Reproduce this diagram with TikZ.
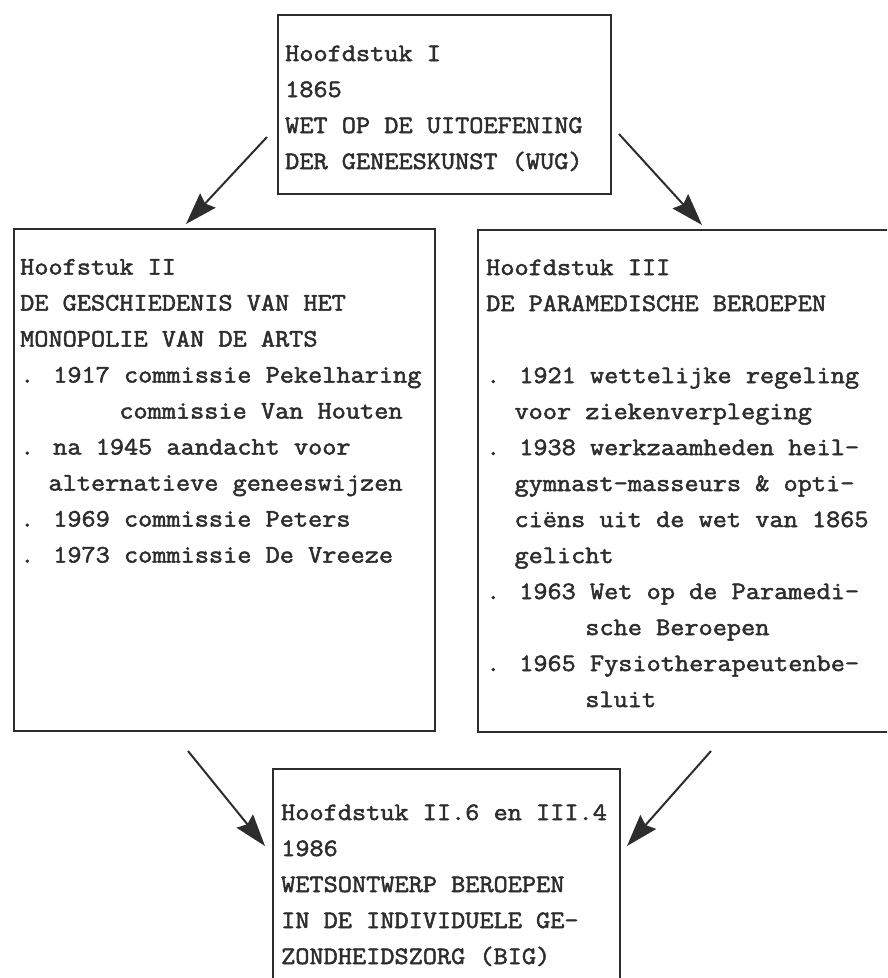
\documentclass[tikz,border=0pt]{standalone}
\usepackage{fontspec}
\usetikzlibrary{arrows.meta}
\newfontfamily\twfont{Latin Modern Mono}[FakeStretch=1.1, FakeBold=2]
\definecolor{ink}{RGB}{45,45,45}
\begin{document}
\begin{tikzpicture}[x=1pt,y=-1pt,
  box/.style={draw=ink, line width=2pt, inner sep=0pt, anchor=north west},
  txt/.style={anchor=base west, inner sep=0pt, text=ink, font=\twfont\fontsize{25}{36}\selectfont},
  arr/.style={draw=ink, line width=2pt, -{Stealth[length=32pt,width=21pt,inset=4pt]}}]
\useasboundingbox (0,0) rectangle (887,978);
\clip (0,0) rectangle (887,978);
\fill[white] (0,0) rectangle (887,978);
% boxes
\node[box, minimum width=333pt, minimum height=179pt] (b1) at (277,14) {};
\node[box, minimum width=421pt, minimum height=502pt] (b2) at (13,228) {};
\node[box, minimum width=430pt, minimum height=502pt] (b3) at (477,229) {};
\node[box, minimum width=347pt, minimum height=240pt] (b4) at (272,768) {};
% texts
\node[txt] (t1) at (285,61) {\begin{tabular}[t]{@{}l@{}}
Hoofdstuk I\\
1865\\
WET OP DE UITOEFENING\\
DER GENEESKUNST (WUG)
\end{tabular}};
\node[txt] (t2) at (20,274.5) {\begin{tabular}[t]{@{}l@{}}
Hoofstuk II\\
DE GESCHIEDENIS VAN HET\\
MONOPOLIE VAN DE ARTS\\
. 1917 commissie Pekelharing\\
~~~~~~~commissie Van Houten\\
. na 1945 aandacht voor\\
~~alternatieve geneeswijzen\\
. 1969 commissie Peters\\
. 1973 commissie De Vreeze
\end{tabular}};
\node[txt] (t3) at (486,275) {\begin{tabular}[t]{@{}l@{}}
Hoofdstuk III\\
DE PARAMEDISCHE BEROEPEN\\
\\
. 1921 wettelijke regeling\\
~~voor ziekenverpleging\\
. 1938 werkzaamheden heil-\\
~~gymnast-masseurs \& opti-\\
~~ciëns uit de wet van 1865\\
~~gelicht\\
. 1963 Wet op de Paramedi-\\
~~~~~~~sche Beroepen\\
. 1965 Fysiotherapeutenbe-\\
~~~~~~~sluit
\end{tabular}};
\node[txt] (t4) at (281,820) {\begin{tabular}[t]{@{}l@{}}
Hoofdstuk II.6 en III.4\\
1986\\
WETSONTWERP BEROEPEN\\
IN DE INDIVIDUELE GE-\\
ZONDHEIDSZORG (BIG)
\end{tabular}};
% arrows
\coordinate (a1s) at (267,137);
\coordinate (a1e) at (186,224);
\coordinate (a2s) at (619,134);
\coordinate (a2e) at (702,225);
\coordinate (a3s) at (188,751);
\coordinate (a3e) at (265,846);
\coordinate (a4s) at (711,751);
\coordinate (a4e) at (627,846);
\draw[arr] (a1s) -- (a1e);
\draw[arr] (a2s) -- (a2e);
\draw[arr] (a3s) -- (a3e);
\draw[arr] (a4s) -- (a4e);
\end{tikzpicture}
\end{document}
